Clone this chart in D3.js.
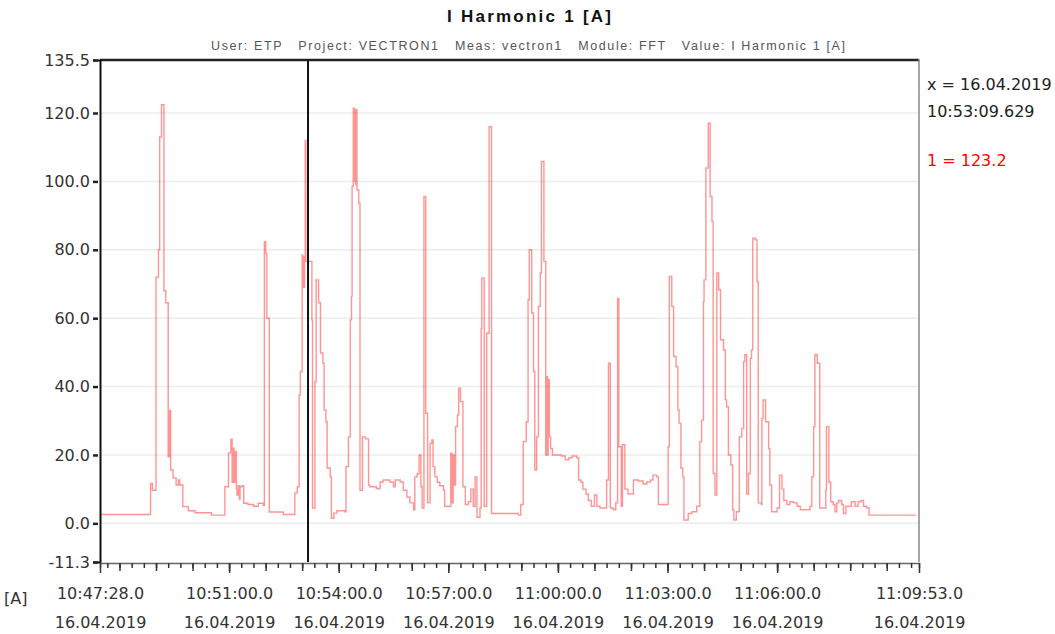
<!DOCTYPE html>
<meta charset="utf-8">
<body style="margin:0;background:#fff">
<script src="https://cdn.jsdelivr.net/npm/d3@7"></script>
<script>
	// measurement start / end and cursor
	var startTime = "2019-04-16T10:47:28";
	var endTime = "2019-04-16T11:09:53";
	var cursorTime = "2019-04-16T10:53:09.629";
	var cursorValue = 123.2;

	// seconds after start, current in A (step values)
	var secs = [0, 83, 86, 92, 96, 98, 101, 105, 108, 112, 113, 114, 115, 116, 120, 125, 129, 131, 136, 145,
		156, 183, 205, 211, 215, 217, 218, 220, 222, 224, 225, 227, 229, 230, 233, 236, 243, 252, 260, 268,
		270, 272, 274, 278, 301, 320, 324, 327, 329, 332, 333, 334, 335, 336, 337, 338, 345, 348, 349, 353,
		355, 359, 362, 366, 368, 371, 373, 378, 380, 384, 389, 402, 404, 408, 411, 413, 414, 416, 418, 419,
		420, 421, 422, 425, 427, 431, 436, 441, 443, 454, 460, 465, 476, 482, 485, 493, 498, 504, 509, 515,
		517, 521, 524, 527, 529, 532, 535, 538, 542, 545, 547, 550, 554, 558, 564, 566, 576, 578, 580, 582,
		584, 587, 589, 592, 596, 600, 605, 609, 613, 616, 619, 624, 626, 627, 630, 631, 635, 639, 643, 687,
		691, 695, 700, 703, 705, 709, 712, 714, 717, 720, 723, 725, 729, 732, 734, 735, 736, 738, 740, 743,
		758, 764, 770, 775, 783, 786, 790, 793, 798, 802, 807, 812, 816, 821, 832, 835, 838, 843, 847, 850,
		852, 856, 858, 862, 867, 876, 884, 892, 898, 904, 908, 914, 917, 933, 935, 939, 942, 946, 949, 951,
		954, 957, 959, 966, 972, 980, 985, 988, 991, 992, 995, 999, 1002, 1005, 1007, 1010, 1013, 1016, 1019, 1024,
		1027, 1029, 1032, 1036, 1039, 1041, 1045, 1050, 1054, 1057, 1059, 1062, 1065, 1068, 1070, 1072, 1076, 1079, 1081, 1086,
		1087, 1089, 1093, 1098, 1100, 1103, 1112, 1116, 1120, 1123, 1128, 1133, 1139, 1145, 1150, 1166, 1169, 1172, 1174, 1178,
		1182, 1192, 1193, 1197, 1200, 1204, 1207, 1210, 1213, 1218, 1221, 1225, 1234, 1240, 1245, 1250, 1254, 1259, 1263, 1340];
	var amps = [2.6, 11.7, 9.7, 72, 80, 113, 122.4, 68, 64.5, 19.5, 33, 19.5, 33, 15.6, 13.3, 11.2, 12.7, 11.2, 4.9, 3.7,
		3.1, 2.4, 10.7, 20.6, 24.6, 12, 22, 12, 21, 10, 8.3, 11, 7, 10.7, 11, 5.9, 5.5, 5, 5.9, 5.2,
		82.4, 79, 60, 3.3, 2.6, 8.9, 10.7, 37.5, 44.4, 78.5, 69, 78, 69, 78, 112, 76.6, 76.6, 59.5, 4.5, 41.4,
		71.2, 64.5, 49.8, 46.9, 33.2, 29.7, 16.2, 13.6, 1.5, 3, 3.7, 3.4, 16.6, 25.3, 59.5, 66.3, 98.5, 121.4, 100, 121,
		99, 121, 97.5, 93.6, 9.7, 25.3, 24.7, 11.2, 10.7, 10.2, 12.1, 12.7, 12.1, 10.7, 12.7, 12.1, 9.7, 7.7, 6, 4,
		13.6, 14.5, 20, 10.7, 4.5, 95.6, 32.2, 6, 23.4, 24.4, 16.6, 13.6, 12, 11, 9.7, 5, 20.5, 6, 20, 11.2,
		28.3, 31.7, 39.5, 35.6, 10.7, 5.5, 6.3, 10, 5, 13.6, 1.8, 4.5, 57, 71.7, 71.7, 5, 55.6, 116, 2.9, 2.4,
		5.5, 23.9, 29.7, 65.4, 80, 61.5, 44.4, 15.6, 25.3, 63.4, 73.2, 105.8, 76.6, 20, 42.9, 20, 42, 25.3, 21.9, 20,
		19.7, 18.6, 19.2, 19.7, 19.2, 12.7, 12, 10, 8.6, 6.7, 5, 8.3, 5, 4.5, 12.7, 46.8, 4.5, 4, 6, 65.8,
		22.4, 5, 23, 10, 8.6, 12.7, 12.4, 11.5, 12.1, 12.7, 14.1, 13.6, 5.5, 22.4, 72.2, 63.4, 48.8, 45.8, 33.2, 29.3,
		16.2, 13.6, 1, 2.9, 3.4, 5, 23.9, 30.2, 64.9, 71.2, 103.9, 117, 95.6, 88.3, 14.6, 8.3, 73.2, 68.3, 53.7, 50.7,
		36.1, 34.1, 20, 17.1, 4, 1, 3.4, 25.3, 27.7, 47.3, 49.3, 8.6, 14.6, 48.3, 50.7, 83.4, 82.9, 70.7, 6, 5.5,
		30.7, 36.1, 29.7, 21.9, 11.2, 3.4, 4.5, 14.1, 10, 6.7, 5.5, 6.3, 6, 5, 4, 5, 13.6, 28.3, 49.3, 46.8,
		4.5, 9.7, 28.3, 12, 6.3, 5.5, 3.4, 6, 6.7, 5.5, 2.9, 5, 6.3, 5, 6.3, 6.7, 5, 4.5, 2.4, 2.4];

	// axis ticks
	var yTicks = [-11.3, 0, 20, 40, 60, 80, 100, 120, 135.5];
	var xLabelTimes = ["10:47:28", "10:51:00", "10:54:00", "10:57:00", "11:00:00", "11:03:00", "11:06:00", "11:09:53"];
	var dateLabel = "16.04.2019";

	var W = 1055, H = 634;
	var pLeft = 100, pRight = 919, pTop = 60, pBottom = 562;
	var font = "DejaVu Sans, sans-serif";

	var svg = d3.select("body").append("svg")
		.attr("width", W)
		.attr("height", H)
		.style("font-family", font);

	var t0 = new Date(startTime);
	var x = d3.scaleTime()
		.domain([t0, new Date(endTime)])
		.range([pLeft, pRight]);
	var y = d3.scaleLinear()
		.domain([-11.3, 135.5])
		.range([pBottom, pTop]);

	var data = secs.map(function(s, i) {
		return {t: new Date(t0.getTime() + s * 1000), v: amps[i]};
	});

	// titles
	svg.append("text")
		.attr("x", 529).attr("y", 22)
		.attr("text-anchor", "middle")
		.attr("font-family", "Liberation Sans, Arial, sans-serif")
		.attr("font-weight", "bold")
		.attr("font-size", 17)
		.attr("textLength", 164)
		.attr("fill", "#111")
		.text("I Harmonic 1 [A]");
	svg.append("text")
		.attr("x", 528).attr("y", 50)
		.attr("text-anchor", "middle")
		.attr("font-family", "Liberation Sans, Arial, sans-serif")
		.attr("font-size", 12.5)
		.attr("textLength", 634)
		.attr("fill", "#555")
		.attr("xml:space", "preserve")
		.text("User: ETP   Project: VECTRON1   Meas: vectron1   Module: FFT   Value: I Harmonic 1 [A]");

	// grid
	svg.append("g").selectAll("line")
		.data(yTicks.filter(function(d) { return d >= 0 && d <= 120; }))
		.enter().append("line")
		.attr("x1", pLeft).attr("x2", pRight)
		.attr("y1", function(d) { return y(d); })
		.attr("y2", function(d) { return y(d); })
		.attr("stroke", "#ececec")
		.attr("stroke-width", 1.5);

	// data line
	var line = d3.line()
		.curve(d3.curveStepAfter)
		.x(function(d) { return x(d.t); })
		.y(function(d) { return y(d.v); });
	svg.append("path")
		.datum(data)
		.attr("fill", "none")
		.attr("stroke", "#ff0000")
		.attr("stroke-opacity", 0.42)
		.attr("stroke-width", 1.4)
		.attr("d", line);

	// frame
	svg.append("line").attr("x1", pLeft).attr("x2", pRight).attr("y1", pTop).attr("y2", pTop)
		.attr("stroke", "#222").attr("stroke-width", 2.5);
	svg.append("line").attr("x1", pRight).attr("x2", pRight).attr("y1", pTop - 1).attr("y2", pBottom)
		.attr("stroke", "#888").attr("stroke-width", 1.5);

	// cursor
	var cx = x(new Date(cursorTime));
	svg.append("line")
		.attr("x1", cx).attr("x2", cx).attr("y1", pTop).attr("y2", pBottom)
		.attr("stroke", "#111").attr("stroke-width", 2);

	// y axis
	var yAxis = svg.append("g")
		.attr("transform", "translate(" + pLeft + ",0)")
		.call(d3.axisLeft(y).tickValues(yTicks).tickSize(7).tickPadding(3)
			.tickFormat(function(d) { return d.toFixed(1); }));
	yAxis.select(".domain").attr("stroke", "#111").attr("stroke-width", 2);
	yAxis.selectAll(".tick line").attr("stroke", "#222").attr("stroke-width", 2.5).attr("x1", -2);
	yAxis.selectAll("text").attr("font-size", 16).attr("font-family", font).attr("fill", "#333");

	// x axis: 20 s ticks, minute ticks, label ticks
	var labelDates = xLabelTimes.map(function(s) { return new Date("2019-04-16T" + s); });
	var minor = svg.append("g")
		.attr("transform", "translate(0," + (pBottom + 1) + ")")
		.call(d3.axisBottom(x).ticks(d3.timeSecond.every(20)).tickSize(5).tickFormat(""));
	minor.select(".domain").attr("stroke", "#666").attr("stroke-width", 1.5);
	minor.selectAll(".tick line").attr("stroke", "#333").attr("stroke-width", 1.5);
	var mid = svg.append("g")
		.attr("transform", "translate(0," + (pBottom + 1) + ")")
		.call(d3.axisBottom(x).ticks(d3.timeMinute.every(1)).tickSize(8).tickFormat(""));
	mid.select(".domain").remove();
	mid.selectAll(".tick line").attr("stroke", "#333").attr("stroke-width", 1.5);
	var major = svg.append("g")
		.attr("transform", "translate(0," + (pBottom + 1) + ")")
		.call(d3.axisBottom(x).tickValues(labelDates).tickSize(10)
			.tickFormat(function(d) { return d3.timeFormat("%H:%M:%S")(d) + ".0"; }));
	major.select(".domain").remove();
	major.selectAll(".tick line").attr("stroke", "#333").attr("stroke-width", 1.5);
	major.selectAll(".tick text")
		.attr("font-size", 16).attr("font-family", font).attr("fill", "#333")
		.attr("y", 25);
	major.selectAll(".tick").append("text")
		.attr("y", 65)
		.attr("fill", "#333")
		.attr("font-size", 16)
		.attr("font-family", font)
		.text(dateLabel);

	svg.append("text")
		.attr("x", 4).attr("y", 604)
		.attr("font-size", 16).attr("fill", "#333")
		.text("[A]");

	// cursor readout
	svg.append("text").attr("x", 927).attr("y", 90).attr("font-size", 16).attr("fill", "#222")
		.text("x = " + d3.timeFormat("%d.%m.%Y")(new Date(cursorTime)));
	svg.append("text").attr("x", 927).attr("y", 117).attr("font-size", 16).attr("fill", "#222")
		.text(d3.timeFormat("%H:%M:%S.%L")(new Date(cursorTime)));
	svg.append("text").attr("x", 927).attr("y", 166).attr("font-size", 16).attr("fill", "#ff0000")
		.text("1 = " + cursorValue.toFixed(1));
</script>
</body>
